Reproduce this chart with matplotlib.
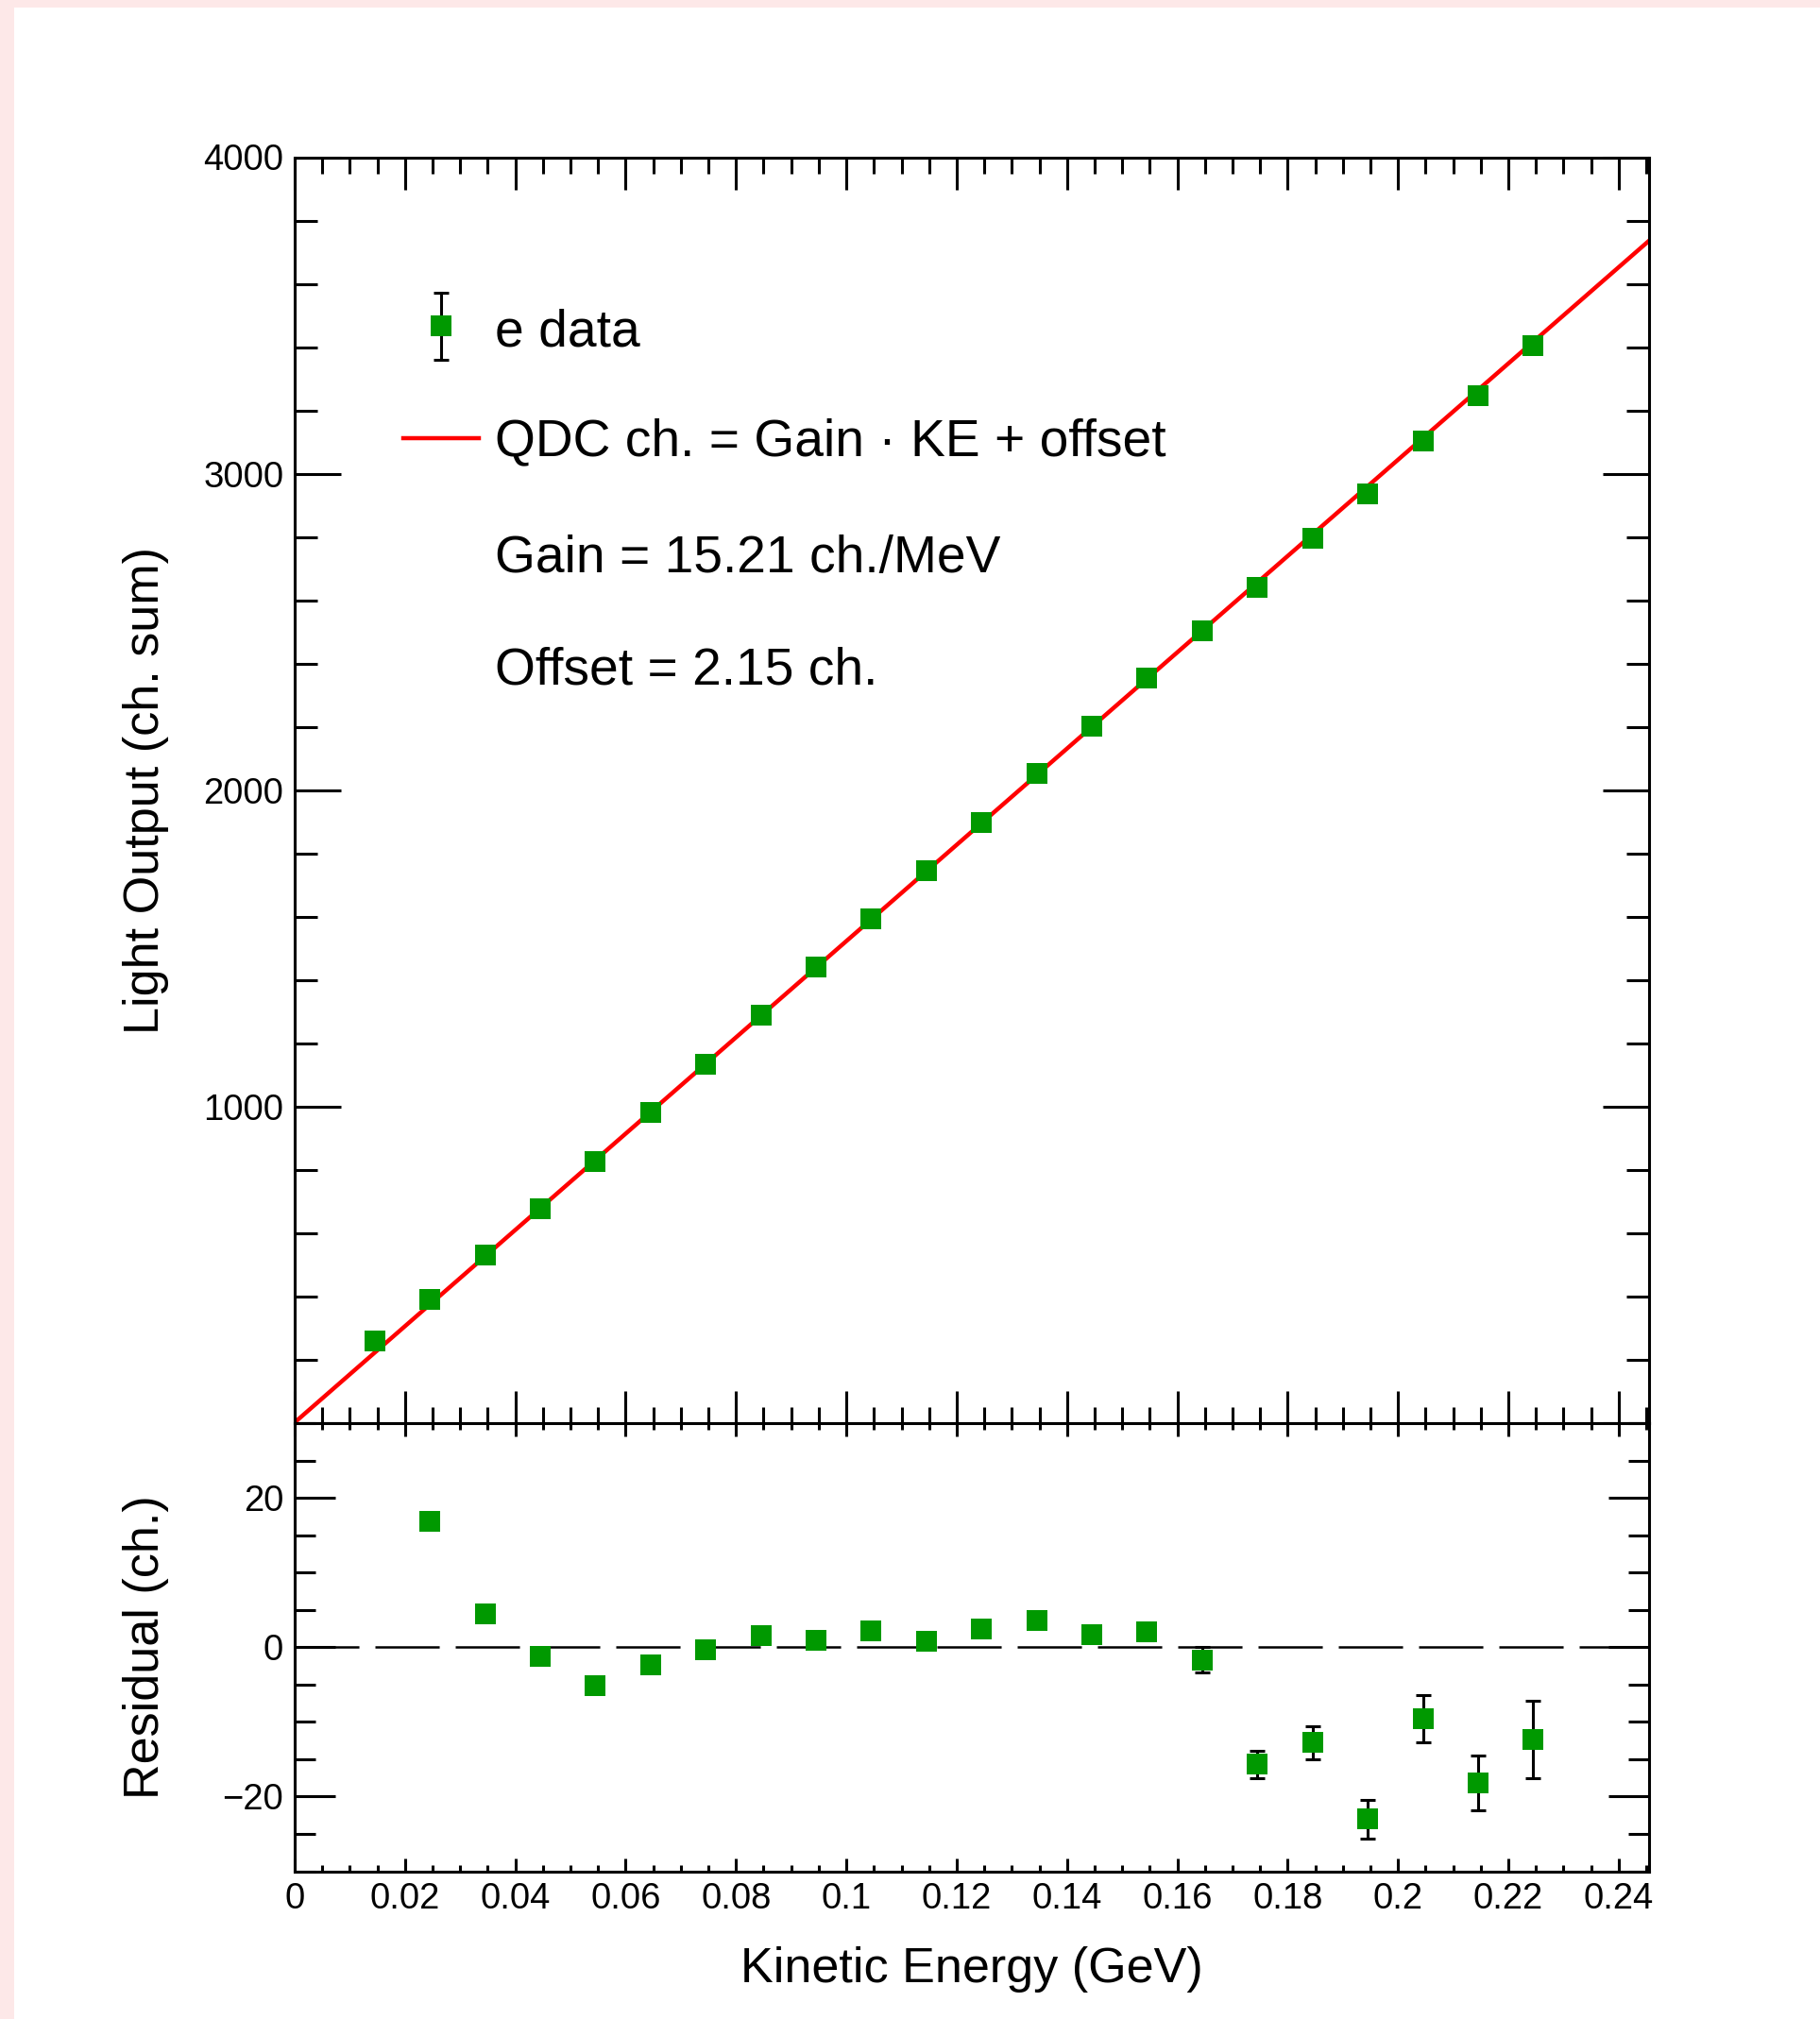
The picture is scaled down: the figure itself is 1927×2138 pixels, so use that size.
import numpy as np
import matplotlib
matplotlib.use('Agg')
import matplotlib.pyplot as plt
from matplotlib.ticker import MultipleLocator, FuncFormatter
from matplotlib.patches import Rectangle

plt.rcParams['font.family'] = ['Liberation Sans', 'DejaVu Sans']

# ---------------- data ----------------
kinetic_energy = [0.0145, 0.0245, 0.0345, 0.0445, 0.0545, 0.0645, 0.0745, 0.0845,
                  0.0945, 0.1045, 0.1145, 0.1245, 0.1345, 0.1445, 0.1545, 0.1645,
                  0.1745, 0.1845, 0.1945, 0.2045, 0.2145, 0.2245]      # GeV
light_output = [261.0, 391.6, 531.3, 677.7, 826.0, 980.8, 1134.9, 1289.0,
                1440.4, 1593.8, 1744.5, 1898.2, 2051.5, 2201.7, 2354.1, 2502.5,
                2640.6, 2795.6, 2937.5, 3103.0, 3246.5, 3404.4]      # ch. sum
light_output_err = [0.4, 0.4, 0.5, 0.5, 0.5, 0.6, 0.6, 0.7,
                    0.7, 0.8, 0.8, 0.9, 0.9, 1.0, 1.1, 1.7,
                    1.8, 2.2, 2.6, 3.2, 3.7, 5.2]
gain_per_mev = 15.21
offset_ch = 2.15

x_range = (0.0, 0.2455)
y_range_top = (0, 4000)
y_range_res = (-30, 30)

legend_data = "e data"
legend_fit = "QDC ch. = Gain \u00b7 KE + offset"
text_gain = "Gain = 15.21 ch./MeV"
text_offset = "Offset = 2.15 ch."

# ---------------- derived ----------------
x = np.array(kinetic_energy)
y = np.array(light_output)
yerr = np.array(light_output_err)


def fit(e_gev):
    return gain_per_mev * 1000.0 * np.asarray(e_gev) + offset_ch


resid = y - fit(x)
in_range = (resid >= y_range_res[0]) & (resid <= y_range_res[1])

GREEN = '#009900'
W, H, DPI = 1927, 2138, 100
fig = plt.figure(figsize=(W / DPI, H / DPI), dpi=DPI)
fig.patch.set_facecolor('#fde8e8')
fig.add_artist(Rectangle((15 / W, 0), 1 - 15 / W, 1 - 8 / H, transform=fig.transFigure,
                         facecolor='white', edgecolor='none', zorder=-10))

left, width = 312 / W, 1434 / W
ax1 = fig.add_axes([left, (H - 1507) / H, width, (1507 - 166.5) / H])
ax2 = fig.add_axes([left, (H - 1981.5) / H, width, (1981.5 - 1507) / H], sharex=ax1)

for ax in (ax1, ax2):
    for s in ax.spines.values():
        s.set_linewidth(2.2)
    ax.tick_params(which='both', direction='in', top=True, right=True,
                   width=2.2, labelsize=27.5, pad=8.5)
    ax.xaxis.set_major_locator(MultipleLocator(0.02))
    ax.xaxis.set_minor_locator(MultipleLocator(0.005))

ax1.tick_params(axis='x', which='major', length=24.5)
ax1.tick_params(axis='x', which='minor', length=12.2)
ax1.tick_params(axis='y', which='major', length=35.3)
ax1.tick_params(axis='y', which='minor', length=17.6)
ax1.tick_params(axis='x', labelbottom=False)
ax2.tick_params(axis='x', which='major', length=10.0)
ax2.tick_params(axis='x', which='minor', length=5.0)
ax2.tick_params(axis='y', which='major', length=31.0)
ax2.tick_params(axis='y', which='minor', length=15.5)

ax1.yaxis.set_major_locator(MultipleLocator(1000))
ax1.yaxis.set_minor_locator(MultipleLocator(200))
ax1.yaxis.set_major_formatter(FuncFormatter(lambda v, p: '' if abs(v) < 1e-9 else '%d' % round(v)))
ax2.yaxis.set_major_locator(MultipleLocator(20))
ax2.yaxis.set_minor_locator(MultipleLocator(5))
ax2.xaxis.set_major_formatter(FuncFormatter(lambda v, p: '%g' % round(v, 4)))

ax1.set_xlim(*x_range)
ax1.set_ylim(*y_range_top)
ax2.set_ylim(*y_range_res)

# ---- top panel ----
xs = np.linspace(x_range[0], x_range[1], 300)
ax1.plot(xs, fit(xs), color='red', lw=3.2, zorder=2)
ax1.errorbar(x, y, yerr=yerr, fmt='none', ecolor='black', elinewidth=2.2,
             capsize=6.1, capthick=2.2, zorder=3)
ax1.plot(x, y, ls='none', marker='s', ms=16.5, mew=0, color=GREEN, zorder=4)

# ---- residual panel ----
lw0 = 1.8
ax2.axhline(0, color='black', lw=lw0, dashes=(49 / lw0, 12.2 / lw0), zorder=1)
ax2.errorbar(x[in_range], resid[in_range], yerr=yerr[in_range], fmt='none',
             ecolor='black', elinewidth=2.2, capsize=6.1, capthick=2.2, zorder=3)
ax2.plot(x[in_range], resid[in_range], ls='none', marker='s', ms=16.5, mew=0,
         color=GREEN, zorder=4)

# ---- legend (drawn in axes coordinates) ----
T = ax1.transAxes
mx, my, mh = 0.1084, 0.8666, 0.0267
ax1.plot([mx, mx], [my - mh, my + mh], color='black', lw=2.2, transform=T)
ax1.plot([mx, mx], [my - mh, my + mh], ls='none', marker='_', ms=12.2, mew=2.2,
         color='black', transform=T)
ax1.plot([mx], [my], ls='none', marker='s', ms=16.5, mew=0, color=GREEN, transform=T)
ax1.plot([0.0802, 0.1360], [0.7783, 0.7783], color='red', lw=3.2, transform=T)
tx = 0.1480
for txt, yb in [(legend_data, 0.8507), (legend_fit, 0.7646),
                (text_gain, 0.6720), (text_offset, 0.5834)]:
    ax1.text(tx, yb, txt, transform=T, fontsize=39.7, ha='left', va='baseline')

# ---- axis titles ----
ax1.set_ylabel('Light Output (ch. sum)', fontsize=37.5)
ax2.set_ylabel('Residual (ch.)', fontsize=37.5)
for ax in (ax1, ax2):
    ax.yaxis.set_label_coords(-0.1098, 0.5)
    ax.yaxis.label.set_verticalalignment('center')
ax2.set_xlabel('Kinetic Energy (GeV)', fontsize=37.5)
ax2.xaxis.set_label_coords(0.5, -0.220)
ax2.xaxis.label.set_verticalalignment('center')

fig.savefig('out.png', dpi=DPI, facecolor=fig.get_facecolor())
